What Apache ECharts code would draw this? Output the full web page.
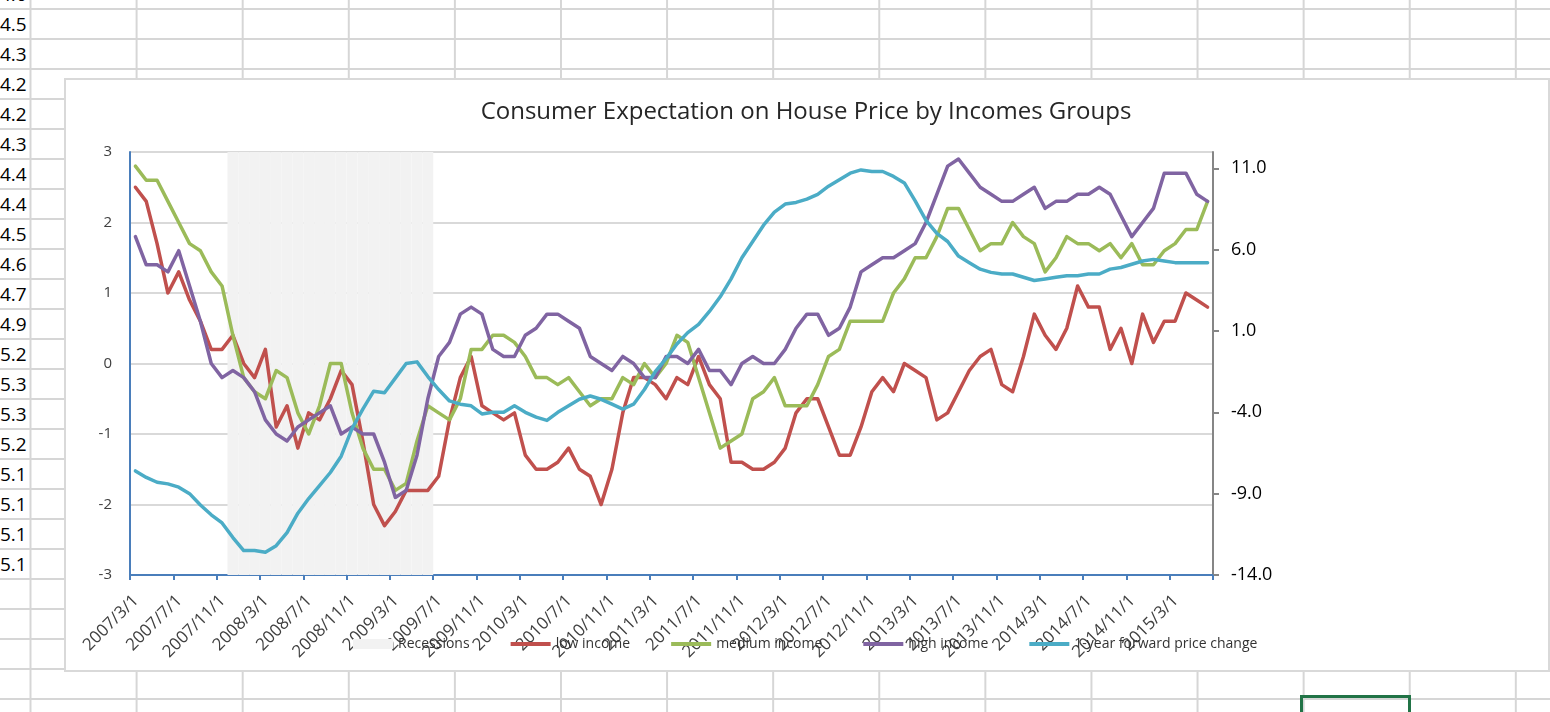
<!DOCTYPE html>
<html>
<head>
<meta charset="utf-8">
<title>Consumer Expectation on House Price by Incomes Groups</title>
<script src="https://cdn.jsdelivr.net/npm/echarts@6/dist/echarts.min.js"></script>
<style>
    html, body {margin: 0; padding: 0;}
    body {width: 1550px; height: 712px; position: relative; overflow: hidden; background: #fff; font-family: 'Open Sans', sans-serif;}
    /* spreadsheet behind the chart */
    #sheet {
        position: absolute; left: 0; top: 0; width: 1550px; height: 712px;
        background-image:
            linear-gradient(to right, transparent 104.1px, #d6d6d6 104.1px),
            linear-gradient(to bottom, transparent 28px, #d6d6d6 28px);
        background-size: 106.1px 100%, 100% 30px;
        background-repeat: repeat-x, repeat-y;
        background-position: -74.6px 0, 0 -20px;
    }
    .cell {position: absolute; left: 0; width: 26px; height: 30px; line-height: 30px; text-align: right; font-size: 19px; color: #000; white-space: nowrap;}
    #box {position: absolute; left: 64px; top: 78px; width: 1486px; height: 594px; box-sizing: border-box; border: 2px solid #d9d9d9; background: #fff;}
    #pick {position: absolute; left: 1300px; top: 695px; width: 111px; height: 30px; box-sizing: border-box; border: 3px solid #217346;}
    #chart {position: absolute; left: 0; top: 0; width: 1550px; height: 712px;}
</style>
</head>
<body>
<div id="sheet"></div>
<div id="box"></div>
<div id="pick"></div>
<div id="chart"></div>
<script>
// column A of the sheet, rows from just above the top edge
var sheetColumnA = ['4.6', '4.5', '4.3', '4.2', '4.2', '4.3', '4.4', '4.4', '4.5', '4.6',
    '4.7', '4.9', '5.2', '5.3', '5.3', '5.2', '5.1', '5.1', '5.1', '5.1'];

var months = [
    '2007/3/1', '2007/4/1', '2007/5/1', '2007/6/1', '2007/7/1', '2007/8/1', '2007/9/1', '2007/10/1', '2007/11/1', '2007/12/1',
    '2008/1/1', '2008/2/1', '2008/3/1', '2008/4/1', '2008/5/1', '2008/6/1', '2008/7/1', '2008/8/1', '2008/9/1', '2008/10/1', '2008/11/1', '2008/12/1',
    '2009/1/1', '2009/2/1', '2009/3/1', '2009/4/1', '2009/5/1', '2009/6/1', '2009/7/1', '2009/8/1', '2009/9/1', '2009/10/1', '2009/11/1', '2009/12/1',
    '2010/1/1', '2010/2/1', '2010/3/1', '2010/4/1', '2010/5/1', '2010/6/1', '2010/7/1', '2010/8/1', '2010/9/1', '2010/10/1', '2010/11/1', '2010/12/1',
    '2011/1/1', '2011/2/1', '2011/3/1', '2011/4/1', '2011/5/1', '2011/6/1', '2011/7/1', '2011/8/1', '2011/9/1', '2011/10/1', '2011/11/1', '2011/12/1',
    '2012/1/1', '2012/2/1', '2012/3/1', '2012/4/1', '2012/5/1', '2012/6/1', '2012/7/1', '2012/8/1', '2012/9/1', '2012/10/1', '2012/11/1', '2012/12/1',
    '2013/1/1', '2013/2/1', '2013/3/1', '2013/4/1', '2013/5/1', '2013/6/1', '2013/7/1', '2013/8/1', '2013/9/1', '2013/10/1', '2013/11/1', '2013/12/1',
    '2014/1/1', '2014/2/1', '2014/3/1', '2014/4/1', '2014/5/1', '2014/6/1', '2014/7/1', '2014/8/1', '2014/9/1', '2014/10/1', '2014/11/1', '2014/12/1',
    '2015/1/1', '2015/2/1', '2015/3/1', '2015/4/1', '2015/5/1', '2015/6/1'
];

// NBER recession flag, drawn as full-height bars
var recessions = [
    0, 0, 0, 0, 0, 0, 0, 0, 0, 3,
    3, 3, 3, 3, 3, 3, 3, 3, 3, 3,
    3, 3, 3, 3, 3, 3, 3, 3, 0, 0,
    0, 0, 0, 0, 0, 0, 0, 0, 0, 0,
    0, 0, 0, 0, 0, 0, 0, 0, 0, 0,
    0, 0, 0, 0, 0, 0, 0, 0, 0, 0,
    0, 0, 0, 0, 0, 0, 0, 0, 0, 0,
    0, 0, 0, 0, 0, 0, 0, 0, 0, 0,
    0, 0, 0, 0, 0, 0, 0, 0, 0, 0,
    0, 0, 0, 0, 0, 0, 0, 0, 0, 0
];

var lowIncome = [
    2.5, 2.3, 1.7, 1.0, 1.3, 0.9, 0.6, 0.2, 0.2, 0.4,
    0.0, -0.2, 0.2, -0.9, -0.6, -1.2, -0.7, -0.8, -0.5, -0.1,
    -0.3, -1.1, -2.0, -2.3, -2.1, -1.8, -1.8, -1.8, -1.6, -0.8,
    -0.2, 0.1, -0.6, -0.7, -0.8, -0.7, -1.3, -1.5, -1.5, -1.4,
    -1.2, -1.5, -1.6, -2.0, -1.5, -0.7, -0.2, -0.2, -0.3, -0.5,
    -0.2, -0.3, 0.1, -0.3, -0.5, -1.4, -1.4, -1.5, -1.5, -1.4,
    -1.2, -0.7, -0.5, -0.5, -0.9, -1.3, -1.3, -0.9, -0.4, -0.2,
    -0.4, 0.0, -0.1, -0.2, -0.8, -0.7, -0.4, -0.1, 0.1, 0.2,
    -0.3, -0.4, 0.1, 0.7, 0.4, 0.2, 0.5, 1.1, 0.8, 0.8,
    0.2, 0.5, 0.0, 0.7, 0.3, 0.6, 0.6, 1.0, 0.9, 0.8
];

var mediumIncome = [
    2.8, 2.6, 2.6, 2.3, 2.0, 1.7, 1.6, 1.3, 1.1, 0.4,
    -0.2, -0.4, -0.5, -0.1, -0.2, -0.7, -1.0, -0.6, 0.0, 0.0,
    -0.7, -1.2, -1.5, -1.5, -1.8, -1.7, -1.1, -0.6, -0.7, -0.8,
    -0.5, 0.2, 0.2, 0.4, 0.4, 0.3, 0.1, -0.2, -0.2, -0.3,
    -0.2, -0.4, -0.6, -0.5, -0.5, -0.2, -0.3, 0.0, -0.2, 0.0,
    0.4, 0.3, -0.2, -0.7, -1.2, -1.1, -1.0, -0.5, -0.4, -0.2,
    -0.6, -0.6, -0.6, -0.3, 0.1, 0.2, 0.6, 0.6, 0.6, 0.6,
    1.0, 1.2, 1.5, 1.5, 1.8, 2.2, 2.2, 1.9, 1.6, 1.7,
    1.7, 2.0, 1.8, 1.7, 1.3, 1.5, 1.8, 1.7, 1.7, 1.6,
    1.7, 1.5, 1.7, 1.4, 1.4, 1.6, 1.7, 1.9, 1.9, 2.3
];

var highIncome = [
    1.8, 1.4, 1.4, 1.3, 1.6, 1.1, 0.6, 0.0, -0.2, -0.1,
    -0.2, -0.4, -0.8, -1.0, -1.1, -0.9, -0.8, -0.7, -0.6, -1.0,
    -0.9, -1.0, -1.0, -1.4, -1.9, -1.8, -1.3, -0.5, 0.1, 0.3,
    0.7, 0.8, 0.7, 0.2, 0.1, 0.1, 0.4, 0.5, 0.7, 0.7,
    0.6, 0.5, 0.1, 0.0, -0.1, 0.1, 0.0, -0.2, -0.2, 0.1,
    0.1, 0.0, 0.2, -0.1, -0.1, -0.3, 0.0, 0.1, 0.0, 0.0,
    0.2, 0.5, 0.7, 0.7, 0.4, 0.5, 0.8, 1.3, 1.4, 1.5,
    1.5, 1.6, 1.7, 2.0, 2.4, 2.8, 2.9, 2.7, 2.5, 2.4,
    2.3, 2.3, 2.4, 2.5, 2.2, 2.3, 2.3, 2.4, 2.4, 2.5,
    2.4, 2.1, 1.8, 2.0, 2.2, 2.7, 2.7, 2.7, 2.4, 2.3
];

// right axis
var forwardPriceChange = [
    -7.6, -8.0, -8.3, -8.4, -8.6, -9.0, -9.7, -10.3, -10.8, -11.7,
    -12.5, -12.5, -12.6, -12.2, -11.4, -10.2, -9.3, -8.5, -7.7, -6.7,
    -5.0, -3.8, -2.7, -2.8, -1.9, -1.0, -0.9, -1.8, -2.6, -3.3,
    -3.5, -3.6, -4.1, -4.0, -4.0, -3.6, -4.0, -4.3, -4.5, -4.0,
    -3.6, -3.2, -3.0, -3.2, -3.5, -3.8, -3.5, -2.6, -1.5, -0.7,
    0.2, 0.9, 1.4, 2.2, 3.1, 4.2, 5.5, 6.5, 7.5, 8.3,
    8.8, 8.9, 9.1, 9.4, 9.9, 10.3, 10.7, 10.9, 10.8, 10.8,
    10.5, 10.1, 9.0, 7.8, 7.0, 6.5, 5.6, 5.2, 4.8, 4.6,
    4.5, 4.5, 4.3, 4.1, 4.2, 4.3, 4.4, 4.4, 4.5, 4.5,
    4.8, 4.9, 5.1, 5.3, 5.4, 5.3, 5.2, 5.2, 5.2, 5.2
];

var rightTicks = [-14, -9, -4, 1, 6, 11];

// sheet cells
sheetColumnA.forEach(function (txt, k) {
    var d = document.createElement('div');
    d.className = 'cell';
    d.style.top = (9 + 30 * (k - 1)) + 'px';
    d.textContent = txt;
    document.body.insertBefore(d, document.getElementById('box'));
});

var blue = '#4a7ebb';
// thin bar inside a 40x10 box, so line swatches stay thin in the legend
var lineIcon = 'path://M0,0M0,10M0,3L40,3L40,7L0,7Z';
var lineSeries = function (name, data, color, yIndex) {
    return {
        name: name,
        type: 'line',
        xAxisIndex: 0,
        yAxisIndex: yIndex,
        data: data,
        symbol: 'none',
        lineStyle: {width: 3.5, color: color, join: 'round', cap: 'round'},
        itemStyle: {color: color}
    };
};

var myChart = echarts.init(document.getElementById('chart'));
myChart.setOption({
    animation: false,
    backgroundColor: 'transparent',
    textStyle: {fontFamily: 'Open Sans'},
    title: {
        text: 'Consumer Expectation on House Price by Incomes Groups',
        left: 806,
        top: 100,
        textAlign: 'center',
        padding: 0,
        textStyle: {fontSize: 24, fontWeight: 'normal', color: '#262626', fontFamily: 'Open Sans'}
    },
    legend: {
        left: 353,
        top: 637,
        padding: 0,
        itemWidth: 40,
        itemHeight: 10,
        itemGap: 41,
        textStyle: {fontSize: 14, color: '#333', fontFamily: 'Open Sans'},
        data: [
            {name: 'Recessions', icon: 'rect'},
            {name: 'low income', icon: lineIcon},
            {name: 'medium income', icon: lineIcon},
            {name: 'high income', icon: lineIcon},
            {name: '1-year forward price change', icon: lineIcon}
        ]
    },
    grid: {left: 130, top: 152, width: 1083, height: 423},
    xAxis: [
        {type: 'category', data: months, boundaryGap: true, show: false},
        {
            type: 'value', min: 0, max: 100, interval: 4, position: 'bottom',
            axisLine: {show: true, onZero: false, lineStyle: {color: blue, width: 2}},
            axisTick: {show: true, length: 5, lineStyle: {color: blue, width: 2}},
            splitLine: {show: false},
            axisLabel: {
                rotate: 45, margin: 17, fontSize: 17, color: '#404040', verticalAlign: 'top',
                formatter: function (v) { return months[v] || ''; }
            }
        }
    ],
    yAxis: [
        {
            type: 'value', min: -3, max: 3, interval: 1,
            axisLine: {show: true, onZero: false, lineStyle: {color: blue, width: 2}},
            axisTick: {show: false},
            axisLabel: {fontSize: 15, color: '#404040', margin: 18},
            splitLine: {lineStyle: {color: '#d9d9d9', width: 2}}
        },
        {
            type: 'value', min: -14, max: 12, interval: 5, position: 'right',
            axisLine: {show: true, onZero: false, lineStyle: {color: '#868686', width: 2}},
            axisTick: {show: true, length: 6, customValues: rightTicks, lineStyle: {color: '#868686', width: 2}},
            axisLabel: {
                customValues: rightTicks, fontSize: 18, color: '#000', margin: 18,
                formatter: function (v) { return v === 12 ? '' : v.toFixed(1); }
            },
            splitLine: {show: false}
        },
        {type: 'value', min: 0, max: 3, show: false}
    ],
    series: [
        {
            name: 'Recessions',
            type: 'bar',
            xAxisIndex: 0,
            yAxisIndex: 2,
            data: recessions.map(function (v) { return v || null; }),
            barWidth: '100%',
            itemStyle: {color: '#f2f2f2'},
            silent: true
        },
        lineSeries('low income', lowIncome, '#c0504d', 0),
        lineSeries('medium income', mediumIncome, '#9bbb59', 0),
        lineSeries('high income', highIncome, '#8064a2', 0),
        lineSeries('1-year forward price change', forwardPriceChange, '#4bacc6', 1)
    ]
});
</script>
</body>
</html>
